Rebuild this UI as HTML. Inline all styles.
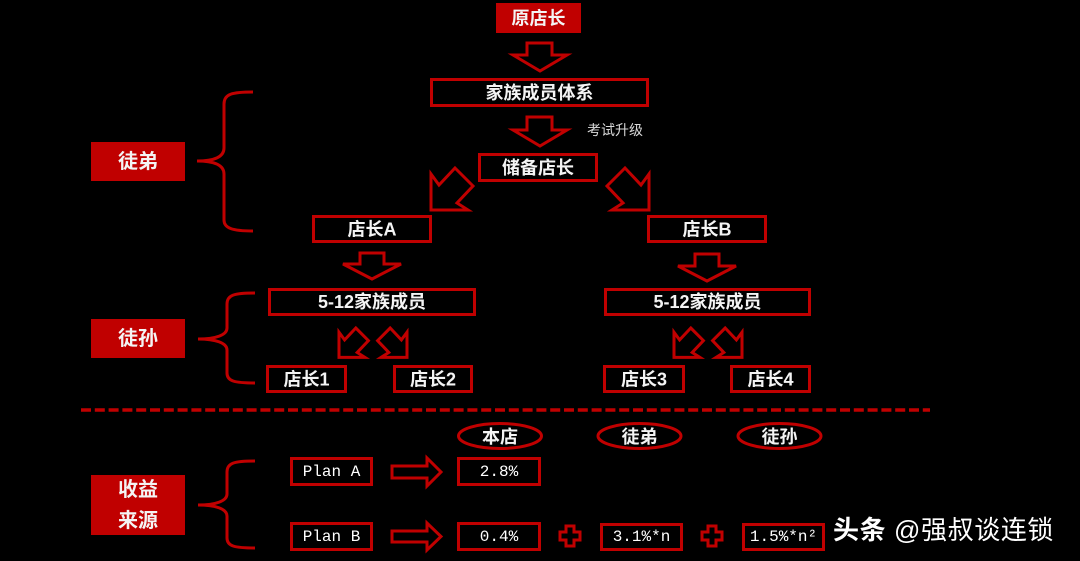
<!DOCTYPE html>
<html><head><meta charset="utf-8"><style>
html,body{margin:0;padding:0;background:#000;}
svg{display:block;}
text{font-family:"Liberation Sans","Noto Sans CJK SC",sans-serif;fill:#fff;}
.b{font-weight:bold;font-size:18px;fill:#f4f4f4;}
.m{font-family:"Liberation Mono","Noto Sans CJK SC",monospace;font-size:16px;}
</style></head><body>
<svg width="1080" height="561" viewBox="0 0 1080 561" xmlns="http://www.w3.org/2000/svg">
<rect width="1080" height="561" fill="#000"/>
<g fill="#c00000">
<rect x="496" y="3" width="85" height="30"/>
<rect x="91" y="142" width="94" height="39"/>
<rect x="91" y="319" width="94" height="39"/>
<rect x="91" y="475" width="94" height="60"/>
</g>
<g fill="none" stroke="#c00000" stroke-width="3">
<rect x="431.5" y="79.5" width="216" height="26"/>
<rect x="479.5" y="154.5" width="117" height="26"/>
<rect x="313.5" y="216.5" width="117" height="25"/>
<rect x="648.5" y="216.5" width="117" height="25"/>
<rect x="269.5" y="289.5" width="205" height="25"/>
<rect x="605.5" y="289.5" width="204" height="25"/>
<rect x="267.5" y="366.5" width="78" height="25"/>
<rect x="394.5" y="366.5" width="77" height="25"/>
<rect x="604.5" y="366.5" width="79" height="25"/>
<rect x="731.5" y="366.5" width="78" height="25"/>
<rect x="291.5" y="458.5" width="80" height="26"/>
<rect x="458.5" y="458.5" width="81" height="26"/>
<rect x="291.5" y="523.5" width="80" height="26"/>
<rect x="458.5" y="523.5" width="81" height="26"/>
<rect x="601.5" y="524.5" width="80" height="25"/>
<rect x="743.5" y="524.5" width="80" height="25"/>
<ellipse cx="500" cy="436" rx="41.5" ry="12.5"/>
<ellipse cx="639.5" cy="436" rx="41.5" ry="12.5"/>
<ellipse cx="779.5" cy="436" rx="41.5" ry="12.5"/>
<!-- down arrows -->
<polygon points="527,43 552,43 552,55 567,55 540,71 513,55 527,55"/>
<polygon points="527,117 552,117 552,130 567,130 540,146 513,130 527,130"/>
<polygon points="360,253 384,253 384,264 401,264 372,279 343,264 360,264"/>
<polygon points="695,254 719,254 719,266 736,266 707,281 678,266 695,266"/>
<!-- right arrows -->
<polygon points="392,466 427,466 427,458 441,472 427,486 427,478 392,478"/>
<polygon points="392,531 427,531 427,523 441,536.5 427,550 427,542 392,542"/>
<!-- braces -->
<path d="M253,92 C232,92 224,94 224,104 L224,148 C224,157 214,161 197,161 C214,161 224,165 224,174 L224,220 C224,228 232,231 253,231"/>
<path d="M255,293 C234,293 227,295 227,304 L227,328 C227,335 216,339 198,339 C216,339 227,343 227,350 L227,373 C227,381 234,383 255,383"/>
<path d="M255,461 C234,461 227,463 227,472 L227,494 C227,501 216,505 198,505 C216,505 227,509 227,516 L227,538 C227,546 234,548 255,548"/>
<!-- plus signs -->
<polygon points="566,526 574,526 574,532 580,532 580,540 574,540 574,546 566,546 566,540 560,540 560,532 566,532"/>
<polygon points="708,526 716,526 716,532 722,532 722,540 716,540 716,546 708,546 708,540 702,540 702,532 708,532"/>
</g>
<!-- diagonal arrows -->
<g fill="none" stroke="#c00000">
<polygon transform="translate(431,168)" stroke-width="3" points="24,0 42,18 26,35 37,42 0,42 0,6 8,17"/>
<polygon transform="translate(649,168) scale(-1,1)" stroke-width="3" points="24,0 42,18 26,35 37,42 0,42 0,6 8,17"/>
<polygon transform="translate(339,328) scale(0.7)" stroke-width="4.3" points="24,0 42,18 26,35 37,42 0,42 0,6 8,17"/>
<polygon transform="translate(407,328) scale(-0.7,0.7)" stroke-width="4.3" points="24,0 42,18 26,35 37,42 0,42 0,6 8,17"/>
<polygon transform="translate(674,328) scale(0.7)" stroke-width="4.3" points="24,0 42,18 26,35 37,42 0,42 0,6 8,17"/>
<polygon transform="translate(742,328) scale(-0.7,0.7)" stroke-width="4.3" points="24,0 42,18 26,35 37,42 0,42 0,6 8,17"/>
</g>
<line x1="81" y1="410" x2="930" y2="410" stroke="#c00000" stroke-width="3.5" stroke-dasharray="10 3.8"/>
<g text-anchor="middle" dominant-baseline="central">
<text class="b" x="538.5" y="18.5">原店长</text>
<text class="b" x="539.5" y="93">家族成员体系</text>
<text class="b" x="538" y="168">储备店长</text>
<text class="b" x="372" y="229.5">店长A</text>
<text class="b" x="707" y="229.5">店长B</text>
<text class="b" x="372" y="302">5-12家族成员</text>
<text class="b" x="707.5" y="302">5-12家族成员</text>
<text class="b" x="306.5" y="379.5">店长1</text>
<text class="b" x="433" y="379.5">店长2</text>
<text class="b" x="644" y="379.5">店长3</text>
<text class="b" x="770.5" y="379.5">店长4</text>
<text class="b" x="138" y="162" style="font-size:20px">徒弟</text>
<text class="b" x="138" y="339" style="font-size:20px">徒孙</text>
<text class="b" x="138" y="490" style="font-size:20px">收益</text>
<text class="b" x="138" y="521" style="font-size:20px">来源</text>
<text class="b" x="500" y="437">本店</text>
<text class="b" x="639.5" y="437">徒弟</text>
<text class="b" x="779.5" y="437">徒孙</text>
<text class="m" x="331.5" y="472">Plan A</text>
<text class="m" x="499" y="472">2.8%</text>
<text class="m" x="331.5" y="537">Plan B</text>
<text class="m" x="499" y="537">0.4%</text>
<text class="m" x="641.5" y="537">3.1%*n</text>
<text class="m" x="783.5" y="537">1.5%*n²</text>
</g>
<text x="587" y="135" style="font-size:14px;fill:#d9d9d9">考试升级</text>
<text x="833" y="539" style="font-size:26px;letter-spacing:0.6px"><tspan font-weight="bold">头条</tspan> @强叔谈连锁</text>
</svg>
</body></html>
